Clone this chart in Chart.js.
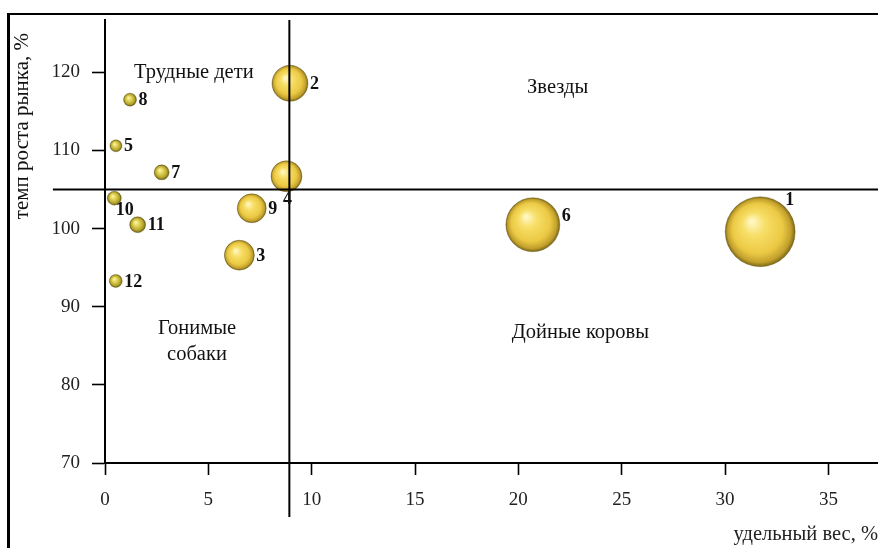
<!DOCTYPE html>
<html lang="ru">
<head>
<meta charset="utf-8">
<title>Матрица БКГ</title>
<script src="https://cdn.jsdelivr.net/npm/chart.js@4.4.1/dist/chart.umd.min.js"></script>
<style>
  html, body { margin: 0; padding: 0; background: #fff; overflow: hidden; }
  #wrap { position: relative; width: 878px; height: 548px; }
  #wrap canvas { position: absolute; left: 0; top: 0; }
  #frame {
    position: absolute; left: 7px; top: 13px; width: 900px; height: 600px;
    border-top: 2px solid #000; border-left: 3px solid #000;
    box-sizing: border-box; pointer-events: none;
  }
</style>
</head>
<body>
<div id="wrap">
  <canvas id="chart" width="878" height="548"></canvas>
  <div id="frame"></div>
</div>
<script>
// Товары: удельный вес (%), темп роста рынка (%), объём продаж (радиус шара)
const productIds   = ['1', '2', '3', '4', '5', '6', '7', '8', '9', '10', '11', '12'];
const shareValues  = [31.7, 8.95, 6.5, 8.78, 0.53, 20.7, 2.74, 1.21, 7.1, 0.45, 1.58, 0.52];
const growthValues = [99.6, 118.6, 96.6, 106.7, 110.6, 100.5, 107.2, 116.5, 102.6, 103.9, 100.5, 93.3];
const volumeValues = [35, 18, 15, 15.5, 6, 27, 7.5, 6.5, 14.5, 7, 8, 6.5];

// Оси
const xTickValues = [0, 5, 10, 15, 20, 25, 30, 35];
const yTickValues = [70, 80, 90, 100, 110, 120];
const xRange = [0, 37.4];
const yRange = [70, 126.7];

// Границы квадрантов
const shareSplit = 8.92;
const growthSplit = 105;

// Названия квадрантов
const quadrantNames = ['Трудные дети', 'Звезды', 'Гонимые\nсобаки', 'Дойные коровы'];

// --- оформление ---
const SERIF = '"Liberation Serif", "Times New Roman", serif';
const quadrantAnchors = [[4.3, 120.0], [21.9, 118.1], [4.45, 85.6], [23.0, 86.7]];
const labelPlacement = { '1': 'aboveRight', '4': 'below', '10': 'belowRight', '6': 'rightHigh' };

// Объёмная заливка шара: блик сверху слева, тёмный край
function sphereFill(ctx) {
  const chart = ctx.chart;
  const raw = ctx.raw;
  const fallback = '#e2c145';
  if (!raw || !chart.scales || !chart.scales.x || !chart.scales.y) return fallback;
  const cx = chart.scales.x.getPixelForValue(raw.x);
  const cy = chart.scales.y.getPixelForValue(raw.y);
  const r = raw.r;
  if (![cx, cy, r].every(Number.isFinite)) return fallback;
  const g = chart.ctx.createRadialGradient(cx - r * 0.25, cy - r * 0.3, r * 0.05, cx, cy, r);
  if (r < 10) {
    g.addColorStop(0, '#fbf3a8');
    g.addColorStop(0.35, '#e2d455');
    g.addColorStop(0.75, '#b6a630');
    g.addColorStop(1, '#6a6012');
  } else {
    g.addColorStop(0, '#fff6c0');
    g.addColorStop(0.3, '#f7de66');
    g.addColorStop(0.7, '#ebc944');
    g.addColorStop(0.9, '#c2a02c');
    g.addColorStop(1, '#7a6818');
  }
  return g;
}

const bubbleData = productIds.map((id, i) => ({ x: shareValues[i], y: growthValues[i], r: volumeValues[i] }));

// Подписи номеров товаров и квадрантов, заголовок оси Y
const annotations = {
  id: 'annotations',
  afterDatasetsDraw(chart) {
    const c = chart.ctx;
    const xs = chart.scales.x, ys = chart.scales.y;
    c.save();
    // номера товаров
    c.font = 'bold 18px ' + SERIF;
    c.fillStyle = '#111';
    c.textBaseline = 'middle';
    const meta = chart.getDatasetMeta(chart.data.datasets.findIndex(d => d.type === 'bubble'));
    meta.data.forEach((el, i) => {
      const id = productIds[i];
      const r = el.options.radius;
      let x = el.x + r + 2, y = el.y + 1, align = 'left';
      switch (labelPlacement[id]) {
        case 'aboveRight': x = el.x + r * 0.7 + 5; y = el.y - r * 0.73 - 6; align = 'center'; break;
        case 'below':      x = el.x + 1; y = el.y + r + 8; align = 'center'; break;
        case 'belowRight': x = el.x + 10.5; y = el.y + 12; align = 'center'; break;
        case 'rightHigh':  x = el.x + r + 2; y = el.y - 8; break;
      }
      c.textAlign = align;
      c.fillText(id, x, y);
    });
    // названия квадрантов
    c.font = '20.5px ' + SERIF;
    c.textAlign = 'center';
    quadrantNames.forEach((name, i) => {
      const lines = name.split('\n');
      const px = xs.getPixelForValue(quadrantAnchors[i][0]);
      const py = ys.getPixelForValue(quadrantAnchors[i][1]);
      const lh = 26;
      lines.forEach((ln, k) => c.fillText(ln, px, py + (k - (lines.length - 1) / 2) * lh));
    });
    // заголовок оси Y
    c.font = '21px ' + SERIF;
    c.translate(22, chart.chartArea.top + 13);
    c.rotate(-Math.PI / 2);
    c.textAlign = 'right';
    c.fillText('темп роста рынка, %', 0, 0);
    c.restore();
  }
};

new Chart(document.getElementById('chart'), {
  type: 'bubble',
  data: {
    datasets: [
      {
        type: 'line',
        data: [{ x: shareSplit, y: 63.1 }, { x: shareSplit, y: yRange[1] }],
        borderColor: '#000', borderWidth: 2, pointRadius: 0, clip: false, order: 0, tension: 0
      },
      {
        type: 'line',
        data: [{ x: -2.52, y: growthSplit }, { x: xRange[1], y: growthSplit }],
        borderColor: '#000', borderWidth: 2, pointRadius: 0, clip: false, order: 0, tension: 0
      },
      {
        type: 'bubble',
        data: bubbleData,
        backgroundColor: sphereFill,
        borderColor: 'rgba(90,75,10,0.55)',
        borderWidth: 0.6,
        clip: false,
        order: 1
      }
    ]
  },
  options: {
    responsive: false,
    animation: false,
    events: [],
    layout: { autoPadding: false, padding: { top: 20, right: 0, bottom: 0, left: 0 } },
    plugins: { legend: { display: false }, tooltip: { enabled: false } },
    scales: {
      x: {
        type: 'linear',
        min: xRange[0], max: xRange[1],
        afterFit: s => { s.height = 85; s.paddingLeft = 0; s.paddingRight = 0; },
        afterBuildTicks: s => { s.ticks = xTickValues.map(v => ({ value: v })); },
        ticks: { includeBounds: false, padding: 14, color: '#222', font: { family: SERIF, size: 19 }, maxRotation: 0 },
        grid: { drawOnChartArea: false, drawTicks: true, tickLength: 12, tickColor: '#000', tickWidth: 1.6 },
        border: { display: true, color: '#000', width: 2 },
        title: { display: true, text: 'удельный вес, %', align: 'end', color: '#222',
                 font: { family: SERIF, size: 20.5 }, padding: { top: 0, bottom: 1 } }
      },
      y: {
        type: 'linear',
        min: yRange[0], max: yRange[1],
        afterFit: s => { s.width = 105; s.paddingTop = 0; s.paddingBottom = 0; },
        afterBuildTicks: s => { s.ticks = yTickValues.map(v => ({ value: v })); },
        ticks: { includeBounds: false, padding: 12, color: '#222', font: { family: SERIF, size: 19 } },
        grid: { drawOnChartArea: false, drawTicks: true, tickLength: 13, tickColor: '#000', tickWidth: 1.6 },
        border: { display: true, color: '#000', width: 2 }
      }
    }
  },
  plugins: [annotations]
});
</script>
</body>
</html>
